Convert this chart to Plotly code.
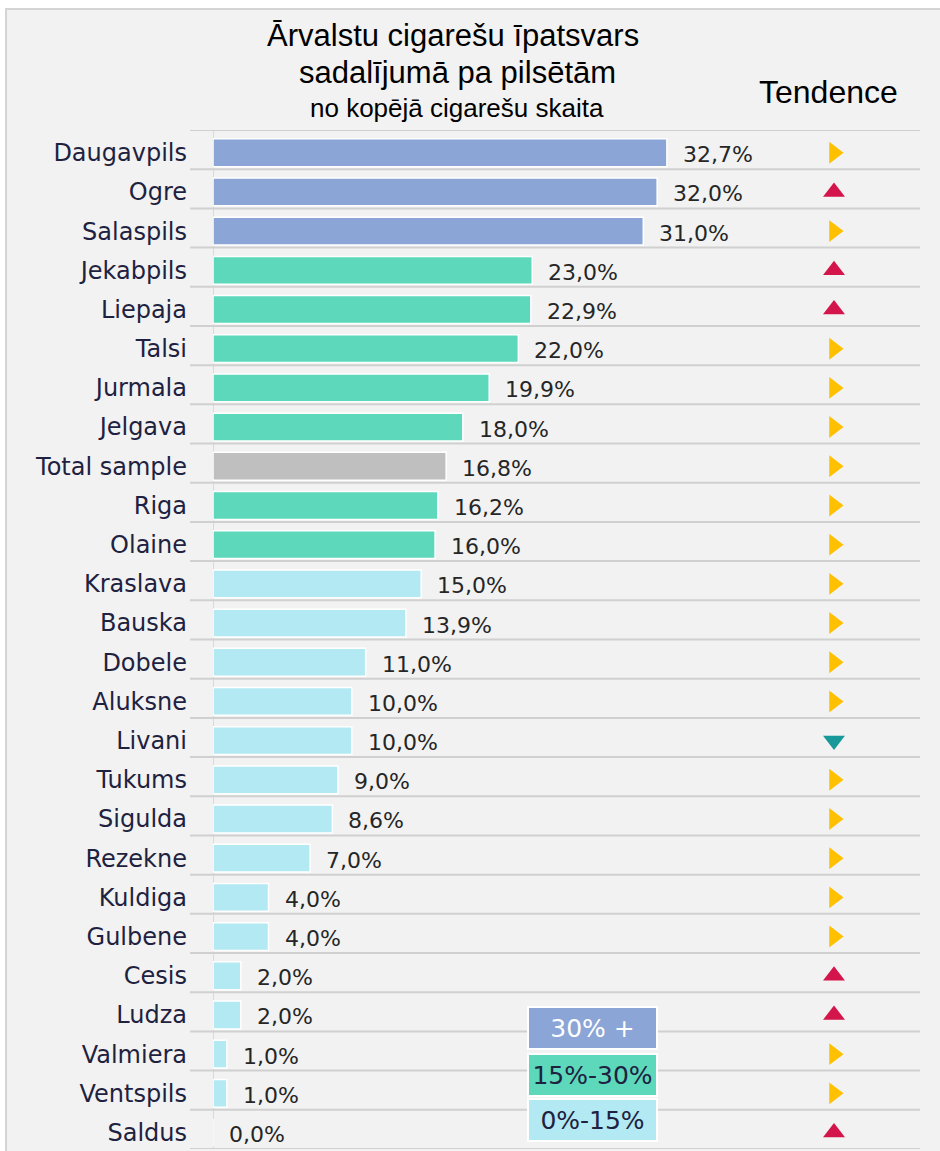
import plotly.graph_objects as go

cities = ["Daugavpils", "Ogre", "Salaspils", "Jekabpils", "Liepaja", "Talsi", "Jurmala",
          "Jelgava", "Total sample", "Riga", "Olaine", "Kraslava", "Bauska", "Dobele",
          "Aluksne", "Livani", "Tukums", "Sigulda", "Rezekne", "Kuldiga", "Gulbene",
          "Cesis", "Ludza", "Valmiera", "Ventspils", "Saldus"]
values = [32.7, 32.0, 31.0, 23.0, 22.9, 22.0, 19.9, 18.0, 16.8, 16.2, 16.0, 15.0, 13.9,
          11.0, 10.0, 10.0, 9.0, 8.6, 7.0, 4.0, 4.0, 2.0, 2.0, 1.0, 1.0, 0.0]
groups = ["30+", "30+", "30+", "15-30", "15-30", "15-30", "15-30", "15-30", "total",
          "15-30", "15-30", "0-15", "0-15", "0-15", "0-15", "0-15", "0-15", "0-15",
          "0-15", "0-15", "0-15", "0-15", "0-15", "0-15", "0-15", "0-15"]
trends = ["flat", "up", "flat", "up", "up", "flat", "flat", "flat", "flat", "flat", "flat",
          "flat", "flat", "flat", "flat", "down", "flat", "flat", "flat", "flat", "flat",
          "up", "up", "flat", "flat", "up"]
legend_labels = ["30% +", "15%-30%", "0%-15%"]

group_colors = {"30+": "#8AA5D6", "15-30": "#5DD8BB", "0-15": "#B2E9F3", "total": "#BFBFBF"}
trend_symbols = {"flat": "triangle-right", "up": "triangle-up", "down": "triangle-down"}
trend_colors = {"flat": "#FFC000", "up": "#D3154B", "down": "#17999A"}

n = len(cities)
idx = list(range(n))
FONT = "DejaVu Sans"
TFONT = "Liberation Sans"
TXT = "#1E2240"

W, H = 940, 1151
L, R, T, B = 213, 20, 130, 2
pw, ph = W - L - R, H - T - B
PX_PER_UNIT = 13.88
TREND_X = (834 - L) / PX_PER_UNIT


def px(x):
    return (x - L) / pw


def py(y):
    return 1 - (y - T) / ph


fig = go.Figure()
fig.add_trace(go.Bar(
    x=values, y=idx, orientation="h", width=0.71,
    marker=dict(color=[group_colors[g] for g in groups], line=dict(color="white", width=1.5)),
    hoverinfo="skip", showlegend=False,
))
fig.add_trace(go.Scatter(
    x=[TREND_X] * n, y=idx, mode="markers",
    marker=dict(symbol=[trend_symbols[t] for t in trends],
                color=[trend_colors[t] for t in trends], size=19, line=dict(width=0)),
    hoverinfo="skip", showlegend=False,
))

annotations = []
for i, v in enumerate(values):
    annotations.append(dict(x=v, y=i + 0.05, xref="x", yref="y",
                            text=f"{v:.1f}%".replace(".", ","),
                            showarrow=False, xanchor="left", yanchor="middle", xshift=14,
                            font=dict(family=FONT, size=22, color="#262626")))

annotations += [
    dict(x=px(453), y=py(35), xref="paper", yref="paper", text="Ārvalstu cigarešu īpatsvars",
         showarrow=False, xanchor="center", yanchor="middle",
         font=dict(family=TFONT, size=31, color="#000")),
    dict(x=px(457), y=py(72), xref="paper", yref="paper", text="sadalījumā pa pilsētām",
         showarrow=False, xanchor="center", yanchor="middle",
         font=dict(family=TFONT, size=31, color="#000")),
    dict(x=px(457), y=py(108), xref="paper", yref="paper", text="no kopējā cigarešu skaita",
         showarrow=False, xanchor="center", yanchor="middle",
         font=dict(family=TFONT, size=26, color="#000")),
    dict(x=px(828), y=py(92), xref="paper", yref="paper", text="Tendence",
         showarrow=False, xanchor="center", yanchor="middle",
         font=dict(family=TFONT, size=32, color="#000")),
]

leg_bg = [group_colors["30+"], group_colors["15-30"], group_colors["0-15"]]
leg_fc = ["white", "#1E2240", "#1E2240"]
leg_y = [1028, 1075, 1120]
for lab, bg, fc, yy in zip(legend_labels, leg_bg, leg_fc, leg_y):
    annotations.append(dict(x=px(592), y=py(yy), xref="paper", yref="paper", text=lab,
                            showarrow=False, xanchor="center", yanchor="middle",
                            bgcolor=bg, bordercolor="white", borderwidth=2,
                            width=127, height=40, borderpad=0,
                            font=dict(family=FONT, size=25, color=fc)))

shapes = [
    dict(type="rect", xref="paper", yref="paper", x0=px(6), x1=px(960), y0=py(9), y1=py(1200),
         fillcolor="#F2F2F2", line=dict(color="#D4D4D4", width=2), layer="below"),
    dict(type="line", xref="x", yref="paper", x0=0, x1=0, y0=0, y1=1,
         line=dict(color="#D9D9D9", width=2), layer="below"),
]
for k in range(n + 1):
    shapes.append(dict(type="line", xref="paper", yref="y", x0=px(190), x1=px(920),
                       y0=k - 0.58, y1=k - 0.58, line=dict(color="#D0D0D0", width=2),
                       layer="below"))

fig.update_layout(
    width=W, height=H,
    margin=dict(l=L, r=R, t=T, b=B),
    paper_bgcolor="white", plot_bgcolor="rgba(0,0,0,0)",
    xaxis=dict(range=[0, pw / PX_PER_UNIT], visible=False, fixedrange=True),
    yaxis=dict(range=[n - 0.58, -0.58], tickmode="array", tickvals=idx, ticktext=cities,
               showgrid=False, zeroline=False, showline=False, ticks="",
               ticklabelstandoff=25, fixedrange=True,
               tickfont=dict(family=FONT, size=24, color=TXT)),
    annotations=annotations,
    shapes=shapes,
)

fig.write_html("out.html", config={"displayModeBar": False},
               post_script="document.body.style.margin='0px';")
